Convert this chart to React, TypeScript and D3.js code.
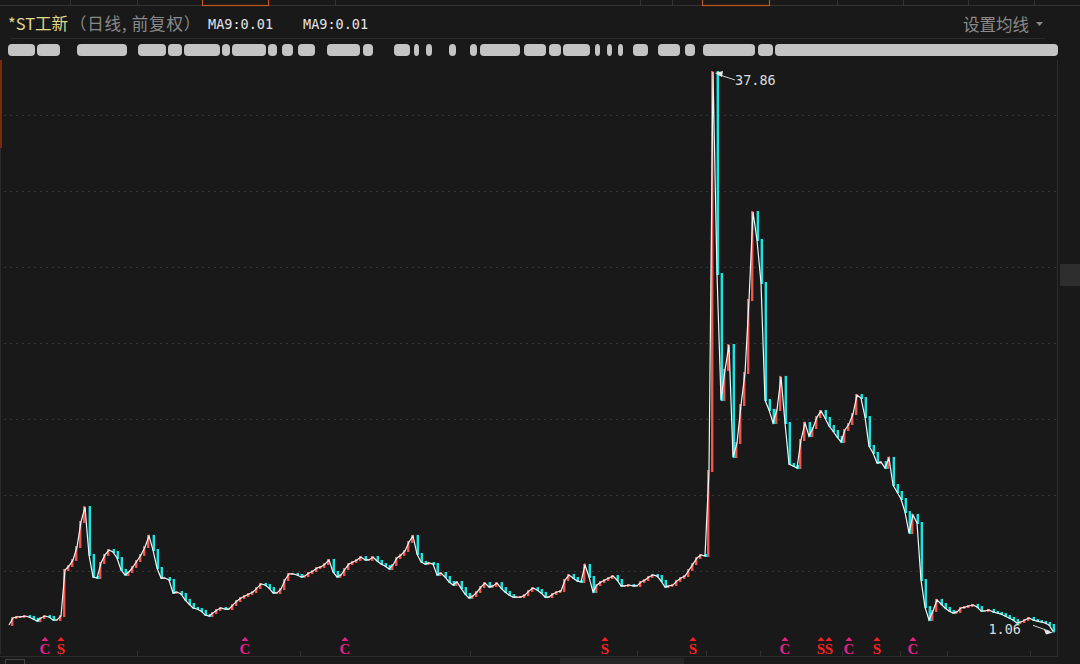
import * as d3 from "d3";

const W = 1080;
const H = 664;

const closes = [
  1.48, 1.94, 2.01, 2.01, 2.07, 2.01, 1.88, 1.74, 1.94, 2.07,
  2.01, 1.81, 1.81, 2.07, 5.10, 5.36, 5.76, 6.61, 8.26, 9.24,
  6.09, 4.64, 4.57, 5.56, 6.09, 6.41, 6.28, 5.89, 5.10, 4.77,
  4.97, 5.30, 5.69, 6.09, 6.61, 7.34, 6.41, 5.23, 4.57, 4.57,
  4.44, 3.59, 3.65, 3.52, 3.13, 2.86, 2.60, 2.53, 2.40, 2.14,
  2.07, 2.27, 2.47, 2.60, 2.53, 2.53, 2.80, 3.06, 3.26, 3.39,
  3.52, 3.65, 3.91, 4.18, 4.11, 3.91, 3.59, 3.59, 3.85, 4.44,
  4.84, 4.84, 4.77, 4.64, 4.70, 4.90, 5.03, 5.23, 5.30, 5.49,
  5.76, 4.97, 4.64, 4.77, 5.16, 5.49, 5.63, 5.76, 5.95, 5.76,
  5.76, 5.95, 5.69, 5.49, 5.36, 5.16, 5.43, 5.89, 6.09, 6.35,
  6.94, 7.34, 6.15, 5.63, 5.49, 5.56, 5.49, 4.77, 4.90, 4.64,
  4.31, 4.11, 4.31, 3.91, 3.52, 3.26, 3.39, 3.65, 3.98, 4.24,
  3.98, 4.05, 4.24, 3.91, 3.65, 3.45, 3.32, 3.32, 3.32, 3.45,
  3.72, 3.91, 3.78, 3.59, 3.32, 3.32, 3.52, 3.65, 3.72, 4.44,
  4.77, 4.57, 4.38, 4.31, 5.43, 4.64, 3.65, 4.11, 4.31, 4.44,
  4.57, 4.70, 4.44, 4.05, 4.05, 4.11, 4.05, 4.05, 4.31, 4.44,
  4.64, 4.77, 4.70, 4.38, 3.98, 4.05, 4.11, 4.38, 4.57, 4.70,
  5.10, 5.49, 5.89, 6.09, 6.02, 11.61, 37.86, 24.57, 16.28, 18.26,
  19.90, 12.53, 13.45, 15.95, 18.06, 22.86, 28.65, 26.81, 23.98, 16.28,
  15.63, 14.77, 15.63, 17.80, 14.77, 12.07, 11.94, 11.81, 13.65, 14.77,
  13.91, 14.44, 15.16, 15.56, 15.10, 14.57, 14.24, 13.85, 13.52, 14.31,
  14.70, 15.36, 16.61, 16.41, 15.16, 13.26, 12.80, 12.14, 12.20, 11.81,
  12.47, 10.69, 10.23, 9.77, 8.91, 7.53, 8.72, 8.19, 4.44, 2.66,
  1.81, 2.40, 3.13, 2.86, 2.60, 2.40, 2.27, 2.34, 2.60, 2.66,
  2.73, 2.80, 2.66, 2.40, 2.40, 2.47, 2.34, 2.27, 2.20, 2.07,
  1.94, 1.81, 1.61, 1.68, 1.81, 1.94, 1.81, 1.74, 1.68, 1.61,
  1.48, 1.06,
];

// buy/sell signal markers below the chart
const signalIdx = [9, 13, 59, 84, 149, 171, 194, 203, 205, 210, 217, 226];
const signalType = ["C", "S", "C", "C", "S", "S", "C", "S", "S", "C", "S", "C"];

const gridPrices = [5, 10, 15, 20, 25, 30, 35];

const tabSeps = [70, 137, 202, 268, 335, 640, 672, 702, 769, 837, 903, 968, 1034];
const tabActive = [[202, 268], [702, 769]];

const bottomTicks = [60, 137, 300, 470, 637, 706, 760, 842, 900, 947, 1030];

// obscured info row (blobs)
const infoBlobs = [
  [8, 35], [37, 60], [77, 127], [138, 166], [168, 182], [184, 220], [222, 230],
  [232, 266], [268, 277], [282, 293], [298, 315], [327, 360], [363, 373],
  [394, 410], [414, 419], [426, 432], [449, 456], [470, 477], [480, 520],
  [524, 546], [549, 561], [563, 590], [595, 600], [607, 612], [618, 623],
  [633, 648], [658, 680], [685, 695], [703, 755], [758, 773], [775, 1058],
];

const BG = "#191919";
const UP = "#f0544f";
const DOWN = "#19e3e8";

export default function App() {
  const n = closes.length;
  const xScale = d3.scaleLinear().domain([0, n - 1]).range([9, 1053]);
  const yScale = d3
    .scaleLinear()
    .domain([0, d3.max(closes) as number])
    .range([647.5, 72]);

  const line = d3
    .line<number>()
    .x((_, i) => xScale(i))
    .y((d) => yScale(d));

  const iMax = d3.maxIndex(closes);
  const iMin = d3.minIndex(closes);
  const pxMax = xScale(iMax);
  const pyMax = yScale(closes[iMax]);
  const pxMin = xScale(iMin);
  const pyMin = yScale(closes[iMin]);

  // candle body = previous close -> close
  const candles = closes.map((c, i) => {
    if (i === 0) return null;
    const o = closes[i - 1];
    const y0 = yScale(Math.max(o, c));
    const y1 = yScale(Math.min(o, c));
    const up = c >= o;
    return (
      <rect
        key={i}
        x={xScale(i) - (up ? 2 : 0.4)}
        width={2.4}
        y={y0 - 1}
        height={Math.max(2, y1 - y0 + 2)}
        fill={up ? UP : DOWN}
      />
    );
  });

  const mono = "'DejaVu Sans Mono', monospace";
  const cjk = "'Noto Sans CJK SC', 'Noto Sans', sans-serif";

  return (
    <div>
      <style>{`body{margin:0;background:${BG}}`}</style>
      <svg width={W} height={H} style={{ display: "block", background: BG }}>
        <rect width={W} height={H} fill={BG} />

        {/* tab strip at top */}
        <line x1={0} x2={W} y1={5.5} y2={5.5} stroke="#353535" />
        {tabSeps.map((x) => (
          <line key={x} x1={x + 0.5} x2={x + 0.5} y1={0} y2={5} stroke="#353535" />
        ))}
        {tabActive.map(([a, b]) => (
          <rect key={a} x={a + 0.5} y={-2} width={b - a} height={7.5} fill="none" stroke="#c4541c" strokeWidth={1.2} />
        ))}

        {/* header */}
        <text x={8} y={30} fontFamily={cjk} fontSize={16.5} fill="#e2d98a">
          *ST工新
        </text>
        <text x={70} y={30} fontFamily={cjk} fontSize={16.5} fill="#8a8a8a" letterSpacing={0.8}>
          （日线, 前复权）
        </text>
        <text x={208} y={29} fontFamily={mono} fontSize={13.5} fill="#e4e4e4">
          MA9:0.01
        </text>
        <text x={303} y={29} fontFamily={mono} fontSize={13.5} fill="#e4e4e4">
          MA9:0.01
        </text>
        <text x={963} y={31} fontFamily={cjk} fontSize={16.5} fill="#8a8a8a">
          设置均线
        </text>
        <path d="M1036,22 L1043,22 L1039.5,26 Z" fill="#8a8a8a" />
        <line x1={10} x2={1045} y1={38.5} y2={38.5} stroke="#2b2b2b" />

        {/* obscured info row */}
        {infoBlobs.map(([a, b]) => (
          <rect key={a} x={a} y={44} width={b - a} height={12} rx={4} fill="#c4c4c4" />
        ))}

        {/* frame */}
        <rect x={0} y={60} width={2} height={88} fill="#7a2a0e" />
        <line x1={0.5} x2={0.5} y1={148} y2={655} stroke="#2a2a2a" />
        <line x1={1057.5} x2={1057.5} y1={60} y2={656} stroke="#2c2c2c" />
        <rect x={1060} y={264} width={20} height={22} fill="#2e2e2e" />
        <line x1={0} x2={1058} y1={656.5} y2={656.5} stroke="#2e2e2e" />
        {bottomTicks.map((x) => (
          <line key={x} x1={x + 0.5} x2={x + 0.5} y1={651} y2={656} stroke="#333" />
        ))}
        <rect x={5.5} y={659.5} width={19} height={8} fill="none" stroke="#444" />
        <rect x={560} y={658} width={124} height={8} fill="#262626" />

        {/* grid */}
        {gridPrices.map((p) => (
          <line
            key={p}
            x1={4}
            x2={1057}
            y1={Math.round(yScale(p)) + 0.5}
            y2={Math.round(yScale(p)) + 0.5}
            stroke="#363636"
            strokeDasharray="2,4"
          />
        ))}

        {/* price */}
        <g>{candles}</g>
        <path d={line(closes) ?? ""} fill="none" stroke="#f4f4f4" strokeWidth={1.2} />

        {/* max / min labels */}
        <line x1={pxMax + 4} y1={pyMax + 2} x2={pxMax + 22} y2={pyMax + 8} stroke="#cfcfcf" />
        <path d={`M${pxMax + 2},${pyMax + 1} L${pxMax + 10},${pyMax - 1} L${pxMax + 9},${pyMax + 5} Z`} fill="#e8e8e8" />
        <text x={pxMax + 22} y={pyMax + 13} fontFamily={mono} fontSize={13.5} fill="#dcdcdc">
          {closes[iMax].toFixed(2)}
        </text>

        <line x1={pxMin - 20} y1={pyMin - 6} x2={pxMin - 3} y2={pyMin} stroke="#cfcfcf" />
        <path d={`M${pxMin},${pyMin + 1} L${pxMin - 9},${pyMin - 2} L${pxMin - 7},${pyMin + 3} Z`} fill="#e8e8e8" />
        <text x={pxMin - 32} y={pyMin + 3} textAnchor="end" fontFamily={mono} fontSize={13.5} fill="#dcdcdc">
          {closes[iMin].toFixed(2)}
        </text>

        {/* signals */}
        {signalIdx.map((idx, k) => {
          const x = xScale(idx);
          const col = signalType[k] === "S" ? "#ff1f1f" : "#e8208c";
          return (
            <g key={k}>
              <path d={`M${x - 3.5},${641} L${x + 3.5},${641} L${x},${637} Z`} fill={col} />
              <text
                x={x}
                y={653.5}
                textAnchor="middle"
                fontFamily="'Liberation Serif', serif"
                fontWeight="bold"
                fontSize={15}
                fill={col}
              >
                {signalType[k]}
              </text>
            </g>
          );
        })}
      </svg>
    </div>
  );
}
